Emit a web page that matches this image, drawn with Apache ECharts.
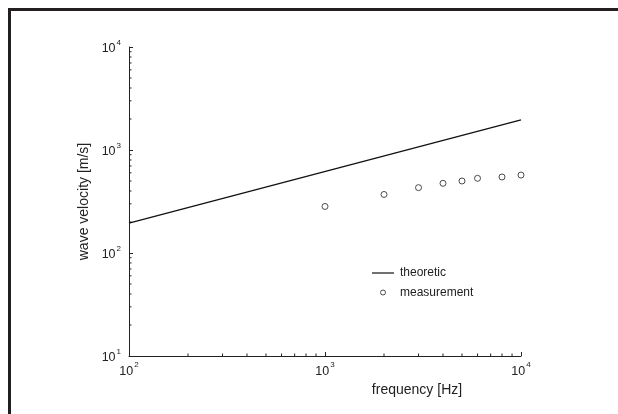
<!DOCTYPE html>
<html>
<head>
<meta charset="utf-8">
<script src="https://cdn.jsdelivr.net/npm/echarts@6/dist/echarts.min.js"></script>
<style>html,body{margin:0;padding:0;background:#fff}#c{width:618px;height:414px}</style>
</head>
<body>
<div id="c"></div>
<script>
// ---- data ----
var theoFreq = [100, 10000];
var theoVel = [195, 1960];
var measFreq = [1000, 2000, 3000, 4000, 5000, 6000, 8000, 10000];
var measVel = [283, 370, 431, 475, 500, 531, 547, 571];
var xMinorTicks = [200, 300, 400, 500, 600, 700, 800, 900, 2000, 3000, 4000, 5000, 6000, 7000, 8000, 9000];
var yMinorTicks = [20, 30, 40, 50, 60, 70, 80, 90, 200, 300, 400, 500, 600, 700, 800, 900, 2000, 3000, 4000, 5000, 6000, 7000, 8000, 9000];

var FONT = 'Liberation Sans, Arial, sans-serif';
var INK = '#222';

function supFmt(v) {
  var e = Math.round(Math.log(v) / Math.LN10);
  return '{b|10}{s|' + e + '}';
}
var rich = {
  b: {fontSize: 12.5, fontFamily: FONT, color: INK, verticalAlign: 'bottom', lineHeight: 17},
  s: {fontSize: 8, fontFamily: FONT, color: INK, verticalAlign: 'top', lineHeight: 17, padding: [0, 0, 0, 1]}
};

var chart = echarts.init(document.getElementById('c'), null, {renderer: 'canvas'});

function minorTickSeries(vals, dim) {
  return {
    type: 'custom',
    silent: true,
    coordinateSystem: 'cartesian2d',
    data: vals.map(function (v) { return dim === 'x' ? [v, 10] : [100, v]; }),
    renderItem: function (params, api) {
      var p = api.coord([api.value(0), api.value(1)]);
      var x1 = p[0], y1 = p[1], x2 = p[0], y2 = p[1];
      if (dim === 'x') { y2 = y1 - 2.5; } else { x2 = x1 + 2.5; }
      return {type: 'line', shape: {x1: x1, y1: y1, x2: x2, y2: y2}, style: {stroke: INK, lineWidth: 1}};
    },
    z: 3
  };
}

chart.setOption({
  animation: false,
  backgroundColor: '#fff',
  textStyle: {fontFamily: FONT},
  grid: {left: 129, top: 47, width: 392, height: 309, containLabel: false},
  xAxis: {
    type: 'log', logBase: 10, min: 100, max: 10000,
    name: 'frequency [Hz]', nameLocation: 'middle', nameGap: 16,
    nameTextStyle: {fontSize: 14, fontFamily: FONT, color: INK, padding: [0, 0, 0, 184], verticalAlign: 'top'},
    axisLine: {show: true, lineStyle: {color: INK, width: 1}},
    axisTick: {show: true, inside: true, length: 4, lineStyle: {color: INK}},
    minorTick: {show: false},
    splitLine: {show: false},
    axisLabel: {formatter: supFmt, rich: rich, margin: 5, color: INK}
  },
  yAxis: {
    type: 'log', logBase: 10, min: 10, max: 10000,
    name: 'wave velocity [m/s]', nameLocation: 'middle', nameGap: 38, nameRotate: 90,
    nameTextStyle: {fontSize: 14, fontFamily: FONT, color: INK},
    axisLine: {show: true, lineStyle: {color: INK, width: 1}},
    axisTick: {show: true, inside: true, length: 4, lineStyle: {color: INK}},
    minorTick: {show: false},
    splitLine: {show: false},
    axisLabel: {formatter: supFmt, rich: rich, margin: 8, color: INK}
  },
  legend: {
    orient: 'vertical', left: 372, top: 267, padding: 0,
    itemWidth: 22, itemHeight: 5, itemGap: 7.5,
    textStyle: {fontSize: 12, fontFamily: FONT, color: INK, padding: [0, 0, 0, 1]},
    data: [
      {name: 'theoretic', icon: 'path://M0,0 L22,0 L22,1.2 L0,1.2 Z', itemStyle: {color: '#111', borderWidth: 0}},
      {name: 'measurement', icon: 'circle', itemStyle: {color: '#fff', borderColor: INK, borderWidth: 1}}
    ]
  },
  graphic: [
    {type: 'rect', shape: {x: 8, y: 8, width: 610, height: 3}, style: {fill: '#231f20'}},
    {type: 'rect', shape: {x: 8, y: 8, width: 3, height: 406}, style: {fill: '#231f20'}}
  ],
  series: [
    {
      name: 'theoretic', type: 'line', symbol: 'none', showSymbol: false,
      lineStyle: {color: '#111', width: 1.3},
      itemStyle: {color: '#111'},
      data: theoFreq.map(function (f, i) { return [f, theoVel[i]]; }),
      z: 4
    },
    {
      name: 'measurement', type: 'scatter', symbol: 'circle', symbolSize: 6,
      itemStyle: {color: '#fff', borderColor: INK, borderWidth: 1},
      data: measFreq.map(function (f, i) { return [f, measVel[i]]; }),
      z: 5
    },
    minorTickSeries(xMinorTicks, 'x'),
    minorTickSeries(yMinorTicks, 'y')
  ]
});
</script>
</body>
</html>
